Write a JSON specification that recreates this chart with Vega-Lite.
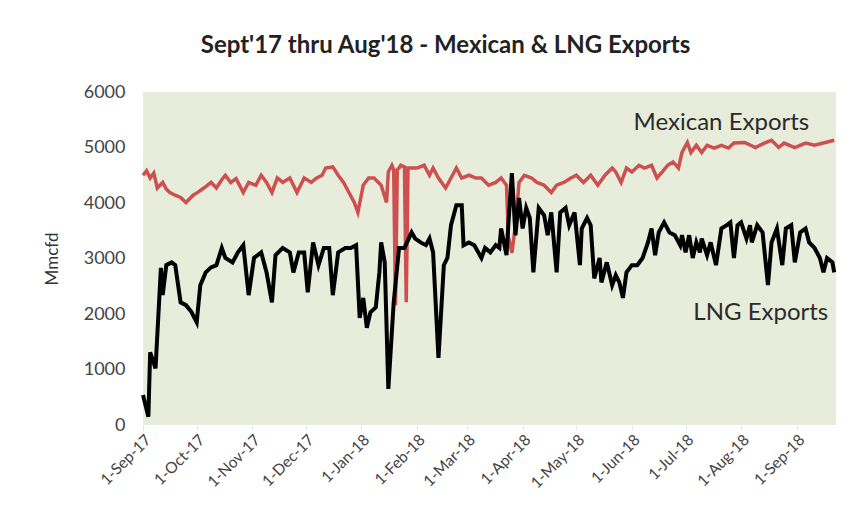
{
  "$schema": "https://vega.github.io/schema/vega-lite/v6.json",
  "autosize": "none",
  "width": 693,
  "height": 333,
  "padding": {"left": 143, "top": 92, "right": 30, "bottom": 103},
  "background": "white",
  "config": {
    "view": {"fill": "#e8ecdb", "stroke": null},
    "font": "Lato"
  },
  "title": {
    "text": "Sept'17 thru Aug'18 - Mexican & LNG Exports",
    "font": "Lato",
    "fontSize": 24,
    "fontWeight": "bold",
    "color": "#222222",
    "anchor": "middle",
    "dx": -44,
    "offset": 25
  },
  "datasets": {
    "lng": [
      {"date": "2017-09-01", "value": 540},
      {"date": "2017-09-04", "value": 150},
      {"date": "2017-09-05", "value": 1310},
      {"date": "2017-09-08", "value": 1020},
      {"date": "2017-09-11", "value": 2830},
      {"date": "2017-09-12", "value": 2340},
      {"date": "2017-09-14", "value": 2880},
      {"date": "2017-09-17", "value": 2930},
      {"date": "2017-09-19", "value": 2880},
      {"date": "2017-09-22", "value": 2210},
      {"date": "2017-09-25", "value": 2160},
      {"date": "2017-09-28", "value": 2040},
      {"date": "2017-10-01", "value": 1850},
      {"date": "2017-10-03", "value": 2520},
      {"date": "2017-10-06", "value": 2750},
      {"date": "2017-10-09", "value": 2840},
      {"date": "2017-10-12", "value": 2880},
      {"date": "2017-10-15", "value": 3190},
      {"date": "2017-10-17", "value": 3010},
      {"date": "2017-10-21", "value": 2930},
      {"date": "2017-10-24", "value": 3110},
      {"date": "2017-10-27", "value": 3240},
      {"date": "2017-10-30", "value": 2340},
      {"date": "2017-11-02", "value": 3010},
      {"date": "2017-11-06", "value": 3110},
      {"date": "2017-11-09", "value": 2750},
      {"date": "2017-11-12", "value": 2210},
      {"date": "2017-11-14", "value": 3060},
      {"date": "2017-11-18", "value": 3190},
      {"date": "2017-11-22", "value": 3110},
      {"date": "2017-11-24", "value": 2750},
      {"date": "2017-11-27", "value": 3110},
      {"date": "2017-11-30", "value": 3110},
      {"date": "2017-12-02", "value": 2390},
      {"date": "2017-12-05", "value": 3290},
      {"date": "2017-12-08", "value": 2880},
      {"date": "2017-12-11", "value": 3190},
      {"date": "2017-12-14", "value": 3190},
      {"date": "2017-12-16", "value": 2340},
      {"date": "2017-12-19", "value": 3110},
      {"date": "2017-12-23", "value": 3190},
      {"date": "2017-12-26", "value": 3190},
      {"date": "2017-12-29", "value": 3240},
      {"date": "2017-12-31", "value": 1930},
      {"date": "2018-01-02", "value": 2290},
      {"date": "2018-01-04", "value": 1750},
      {"date": "2018-01-06", "value": 2030},
      {"date": "2018-01-09", "value": 2120},
      {"date": "2018-01-11", "value": 2750},
      {"date": "2018-01-12", "value": 3290},
      {"date": "2018-01-14", "value": 2930},
      {"date": "2018-01-16", "value": 650},
      {"date": "2018-01-19", "value": 2210},
      {"date": "2018-01-22", "value": 3190},
      {"date": "2018-01-25", "value": 3190},
      {"date": "2018-01-29", "value": 3470},
      {"date": "2018-01-31", "value": 3360},
      {"date": "2018-02-03", "value": 3290},
      {"date": "2018-02-06", "value": 3240},
      {"date": "2018-02-08", "value": 3360},
      {"date": "2018-02-10", "value": 3110},
      {"date": "2018-02-13", "value": 1210},
      {"date": "2018-02-16", "value": 2880},
      {"date": "2018-02-18", "value": 3010},
      {"date": "2018-02-20", "value": 3600},
      {"date": "2018-02-23", "value": 3960},
      {"date": "2018-02-26", "value": 3960},
      {"date": "2018-02-27", "value": 3240},
      {"date": "2018-03-02", "value": 3290},
      {"date": "2018-03-05", "value": 3240},
      {"date": "2018-03-09", "value": 3010},
      {"date": "2018-03-11", "value": 3190},
      {"date": "2018-03-14", "value": 3110},
      {"date": "2018-03-17", "value": 3240},
      {"date": "2018-03-19", "value": 3190},
      {"date": "2018-03-20", "value": 3540},
      {"date": "2018-03-23", "value": 3060},
      {"date": "2018-03-24", "value": 3600},
      {"date": "2018-03-26", "value": 4540},
      {"date": "2018-03-28", "value": 3420},
      {"date": "2018-03-30", "value": 4090},
      {"date": "2018-04-01", "value": 3540},
      {"date": "2018-04-03", "value": 3910},
      {"date": "2018-04-05", "value": 3730},
      {"date": "2018-04-07", "value": 2750},
      {"date": "2018-04-10", "value": 3910},
      {"date": "2018-04-13", "value": 3780},
      {"date": "2018-04-15", "value": 3420},
      {"date": "2018-04-17", "value": 3830},
      {"date": "2018-04-20", "value": 2750},
      {"date": "2018-04-22", "value": 3830},
      {"date": "2018-04-25", "value": 3910},
      {"date": "2018-04-27", "value": 3600},
      {"date": "2018-04-30", "value": 3830},
      {"date": "2018-05-03", "value": 2880},
      {"date": "2018-05-04", "value": 3540},
      {"date": "2018-05-07", "value": 3730},
      {"date": "2018-05-09", "value": 3600},
      {"date": "2018-05-11", "value": 2640},
      {"date": "2018-05-14", "value": 3010},
      {"date": "2018-05-15", "value": 2570},
      {"date": "2018-05-18", "value": 2930},
      {"date": "2018-05-21", "value": 2520},
      {"date": "2018-05-23", "value": 2700},
      {"date": "2018-05-25", "value": 2570},
      {"date": "2018-05-27", "value": 2290},
      {"date": "2018-05-29", "value": 2750},
      {"date": "2018-06-01", "value": 2880},
      {"date": "2018-06-04", "value": 2880},
      {"date": "2018-06-07", "value": 3010},
      {"date": "2018-06-10", "value": 3290},
      {"date": "2018-06-12", "value": 3540},
      {"date": "2018-06-14", "value": 3060},
      {"date": "2018-06-16", "value": 3470},
      {"date": "2018-06-19", "value": 3650},
      {"date": "2018-06-22", "value": 3470},
      {"date": "2018-06-25", "value": 3420},
      {"date": "2018-06-28", "value": 3240},
      {"date": "2018-06-29", "value": 3420},
      {"date": "2018-07-01", "value": 3110},
      {"date": "2018-07-03", "value": 3420},
      {"date": "2018-07-05", "value": 3010},
      {"date": "2018-07-07", "value": 3290},
      {"date": "2018-07-09", "value": 3110},
      {"date": "2018-07-10", "value": 3360},
      {"date": "2018-07-13", "value": 3060},
      {"date": "2018-07-15", "value": 3290},
      {"date": "2018-07-18", "value": 2880},
      {"date": "2018-07-21", "value": 3540},
      {"date": "2018-07-24", "value": 3600},
      {"date": "2018-07-26", "value": 3650},
      {"date": "2018-07-28", "value": 3010},
      {"date": "2018-07-30", "value": 3600},
      {"date": "2018-08-01", "value": 3650},
      {"date": "2018-08-04", "value": 3360},
      {"date": "2018-08-06", "value": 3600},
      {"date": "2018-08-07", "value": 3290},
      {"date": "2018-08-10", "value": 3600},
      {"date": "2018-08-13", "value": 3470},
      {"date": "2018-08-16", "value": 2520},
      {"date": "2018-08-18", "value": 3290},
      {"date": "2018-08-21", "value": 3540},
      {"date": "2018-08-24", "value": 2880},
      {"date": "2018-08-26", "value": 3540},
      {"date": "2018-08-29", "value": 3600},
      {"date": "2018-08-31", "value": 2930},
      {"date": "2018-09-03", "value": 3470},
      {"date": "2018-09-06", "value": 3540},
      {"date": "2018-09-08", "value": 3290},
      {"date": "2018-09-11", "value": 3190},
      {"date": "2018-09-14", "value": 3010},
      {"date": "2018-09-16", "value": 2750},
      {"date": "2018-09-18", "value": 3010},
      {"date": "2018-09-21", "value": 2930},
      {"date": "2018-09-22", "value": 2750}
    ],
    "mex": [
      {"date": "2017-09-01", "value": 4500},
      {"date": "2017-09-03", "value": 4580},
      {"date": "2017-09-05", "value": 4450},
      {"date": "2017-09-07", "value": 4540},
      {"date": "2017-09-09", "value": 4270},
      {"date": "2017-09-12", "value": 4370},
      {"date": "2017-09-14", "value": 4250},
      {"date": "2017-09-16", "value": 4190},
      {"date": "2017-09-19", "value": 4140},
      {"date": "2017-09-22", "value": 4100},
      {"date": "2017-09-25", "value": 4010},
      {"date": "2017-09-29", "value": 4140},
      {"date": "2017-10-02", "value": 4200},
      {"date": "2017-10-05", "value": 4270},
      {"date": "2017-10-09", "value": 4370},
      {"date": "2017-10-12", "value": 4270},
      {"date": "2017-10-15", "value": 4420},
      {"date": "2017-10-17", "value": 4500},
      {"date": "2017-10-20", "value": 4370},
      {"date": "2017-10-23", "value": 4440},
      {"date": "2017-10-27", "value": 4190},
      {"date": "2017-10-30", "value": 4370},
      {"date": "2017-11-03", "value": 4320},
      {"date": "2017-11-06", "value": 4500},
      {"date": "2017-11-09", "value": 4370},
      {"date": "2017-11-12", "value": 4190},
      {"date": "2017-11-15", "value": 4450},
      {"date": "2017-11-18", "value": 4370},
      {"date": "2017-11-22", "value": 4450},
      {"date": "2017-11-26", "value": 4190},
      {"date": "2017-11-30", "value": 4450},
      {"date": "2017-12-04", "value": 4370},
      {"date": "2017-12-07", "value": 4450},
      {"date": "2017-12-10", "value": 4500},
      {"date": "2017-12-12", "value": 4630},
      {"date": "2017-12-16", "value": 4650},
      {"date": "2017-12-19", "value": 4500},
      {"date": "2017-12-22", "value": 4370},
      {"date": "2017-12-25", "value": 4190},
      {"date": "2017-12-28", "value": 4010},
      {"date": "2017-12-30", "value": 3830},
      {"date": "2018-01-02", "value": 4320},
      {"date": "2018-01-05", "value": 4450},
      {"date": "2018-01-08", "value": 4450},
      {"date": "2018-01-12", "value": 4320},
      {"date": "2018-01-15", "value": 4010},
      {"date": "2018-01-16", "value": 4560},
      {"date": "2018-01-18", "value": 4680},
      {"date": "2018-01-19", "value": 4600},
      {"date": "2018-01-20", "value": 2160},
      {"date": "2018-01-21", "value": 4600},
      {"date": "2018-01-22", "value": 4630},
      {"date": "2018-01-23", "value": 4680},
      {"date": "2018-01-25", "value": 4650},
      {"date": "2018-01-26", "value": 2210},
      {"date": "2018-01-27", "value": 4630},
      {"date": "2018-02-01", "value": 4630},
      {"date": "2018-02-05", "value": 4680},
      {"date": "2018-02-08", "value": 4500},
      {"date": "2018-02-10", "value": 4630},
      {"date": "2018-02-13", "value": 4450},
      {"date": "2018-02-17", "value": 4270},
      {"date": "2018-02-20", "value": 4450},
      {"date": "2018-02-23", "value": 4630},
      {"date": "2018-02-26", "value": 4450},
      {"date": "2018-03-02", "value": 4500},
      {"date": "2018-03-06", "value": 4450},
      {"date": "2018-03-09", "value": 4450},
      {"date": "2018-03-13", "value": 4320},
      {"date": "2018-03-17", "value": 4370},
      {"date": "2018-03-20", "value": 4450},
      {"date": "2018-03-23", "value": 4320},
      {"date": "2018-03-24", "value": 3400},
      {"date": "2018-03-26", "value": 3100},
      {"date": "2018-03-28", "value": 3600},
      {"date": "2018-03-30", "value": 4370},
      {"date": "2018-04-02", "value": 4500},
      {"date": "2018-04-06", "value": 4450},
      {"date": "2018-04-09", "value": 4370},
      {"date": "2018-04-13", "value": 4320},
      {"date": "2018-04-17", "value": 4190},
      {"date": "2018-04-20", "value": 4320},
      {"date": "2018-04-24", "value": 4370},
      {"date": "2018-04-28", "value": 4450},
      {"date": "2018-05-01", "value": 4500},
      {"date": "2018-05-05", "value": 4370},
      {"date": "2018-05-09", "value": 4500},
      {"date": "2018-05-13", "value": 4320},
      {"date": "2018-05-17", "value": 4500},
      {"date": "2018-05-21", "value": 4630},
      {"date": "2018-05-23", "value": 4560},
      {"date": "2018-05-26", "value": 4370},
      {"date": "2018-05-29", "value": 4630},
      {"date": "2018-06-01", "value": 4560},
      {"date": "2018-06-05", "value": 4680},
      {"date": "2018-06-08", "value": 4630},
      {"date": "2018-06-12", "value": 4680},
      {"date": "2018-06-15", "value": 4450},
      {"date": "2018-06-18", "value": 4560},
      {"date": "2018-06-21", "value": 4680},
      {"date": "2018-06-24", "value": 4740},
      {"date": "2018-06-27", "value": 4630},
      {"date": "2018-06-29", "value": 4910},
      {"date": "2018-07-02", "value": 5090},
      {"date": "2018-07-04", "value": 4910},
      {"date": "2018-07-07", "value": 5040},
      {"date": "2018-07-10", "value": 4910},
      {"date": "2018-07-13", "value": 5040},
      {"date": "2018-07-17", "value": 4990},
      {"date": "2018-07-21", "value": 5040},
      {"date": "2018-07-25", "value": 4990},
      {"date": "2018-07-28", "value": 5080},
      {"date": "2018-08-03", "value": 5090},
      {"date": "2018-08-09", "value": 5000},
      {"date": "2018-08-14", "value": 5080},
      {"date": "2018-08-18", "value": 5130},
      {"date": "2018-08-22", "value": 5000},
      {"date": "2018-08-25", "value": 5080},
      {"date": "2018-08-31", "value": 5000},
      {"date": "2018-09-06", "value": 5080},
      {"date": "2018-09-11", "value": 5040},
      {"date": "2018-09-17", "value": 5090},
      {"date": "2018-09-22", "value": 5130}
    ],
    "labels": [
      {"date": "2018-07-21", "value": 5310, "label": "Mexican Exports"},
      {"date": "2018-08-12", "value": 1890, "label": "LNG Exports"}
    ]
  },
  "layer": [
    {
      "data": {"name": "mex"},
      "mark": {"type": "line", "color": "#cd4f4f", "strokeWidth": 3.5},
      "encoding": {
        "x": {
          "field": "date",
          "type": "temporal",
          "scale": {"type": "utc", "domain": ["2017-09-01", "2018-09-23"]},
          "axis": {
            "title": null,
            "format": "%-d-%b-%y",
            "tickCount": {"interval": "month", "step": 1},
            "labelAngle": -45,
            "labelFontSize": 15.5,
            "labelColor": "#444444",
            "labelFont": "Lato",
            "domain": false,
            "ticks": true,
            "tickColor": "#e4e8da",
            "tickSize": 5,
            "labelPadding": 2,
            "grid": false,
            "labelOverlap": false
          }
        },
        "y": {
          "field": "value",
          "type": "quantitative",
          "scale": {"domain": [0, 6000], "nice": false},
          "axis": {
            "title": "Mmcfd",
            "titleFont": "Lato",
            "titleFontSize": 17,
            "titleFontWeight": "normal",
            "titleColor": "#333333",
            "titlePadding": 22,
            "format": "d",
            "values": [0, 1000, 2000, 3000, 4000, 5000, 6000],
            "labelFontSize": 18,
            "labelColor": "#444444",
            "labelFont": "Lato",
            "labelPadding": 18,
            "domain": false,
            "ticks": false,
            "grid": false
          }
        }
      }
    },
    {
      "data": {"name": "lng"},
      "mark": {"type": "line", "color": "#000000", "strokeWidth": 4},
      "encoding": {
        "x": {"field": "date", "type": "temporal"},
        "y": {"field": "value", "type": "quantitative"}
      }
    },
    {
      "data": {"name": "labels"},
      "mark": {"type": "text", "font": "Lato", "fontSize": 24, "color": "#2b2b2b", "baseline": "alphabetic", "align": "center"},
      "encoding": {
        "x": {"field": "date", "type": "temporal"},
        "y": {"field": "value", "type": "quantitative"},
        "text": {"field": "label"}
      }
    }
  ]
}
